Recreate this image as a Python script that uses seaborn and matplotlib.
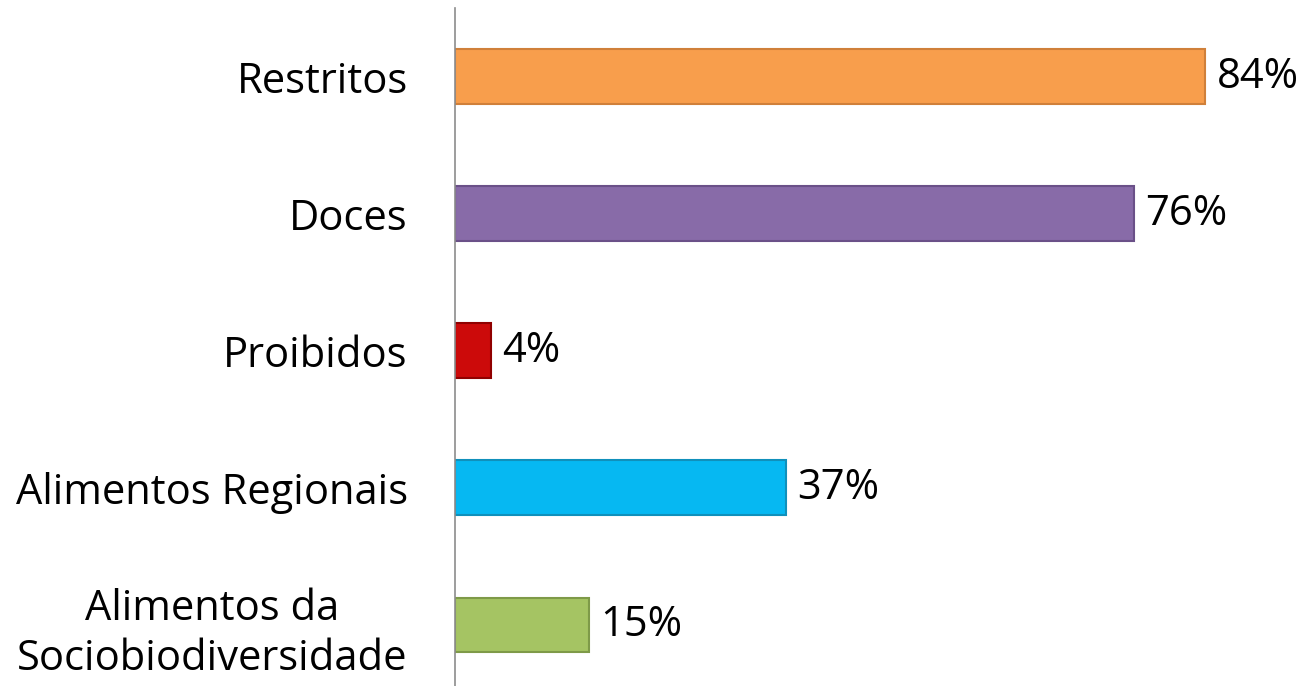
import matplotlib
matplotlib.use("Agg")
import matplotlib.pyplot as plt
import seaborn as sns
import pandas as pd

# chart data
categorias = ["Restritos", "Doces", "Proibidos", "Alimentos Regionais",
              "Alimentos da\nSociobiodiversidade"]
percentuais = [84, 76, 4, 37, 15]
cores = ["#F89E4C", "#886BA8", "#CC0A0A", "#06B8F2", "#A5C463"]
bordas = ["#D0803A", "#6A5088", "#900000", "#1090BB", "#7E9A48"]

sns.set_theme(style="white")
plt.rcParams["font.family"] = ["Open Sans", "DejaVu Sans"]

df = pd.DataFrame({"categoria": categorias, "valor": percentuais})

fig = plt.figure(figsize=(13.09, 6.86), dpi=100)
ax = fig.add_axes([455 / 1309, 0, 854 / 1309, 678 / 686])

sns.barplot(data=df, x="valor", y="categoria", hue="categoria",
            palette=cores, saturation=1, legend=False, width=0.4, ax=ax)

for patch, borda in zip(ax.patches, bordas):
    patch.set_edgecolor(borda)
    patch.set_linewidth(1.5)

# data labels
for i, v in enumerate(percentuais):
    ax.text(v + 1.3, i, f"{v}%", va="center", ha="left", fontsize=30, color="black")

ax.set_xlim(0, 95.6)
ax.set_ylim(4.445, -0.5)
ax.set_xlabel("")
ax.set_ylabel("")
ax.set_xticks([])
ax.tick_params(axis="y", length=0, pad=34, labelsize=30, labelcolor="black")
for lbl in ax.get_yticklabels():
    lbl.set_multialignment("center")
    lbl.set_linespacing(1.25)

for side in ["top", "right", "bottom"]:
    ax.spines[side].set_visible(False)
ax.spines["left"].set_color("#8C8C8C")
ax.spines["left"].set_linewidth(1.2)

fig.savefig("out.png", dpi=100)
